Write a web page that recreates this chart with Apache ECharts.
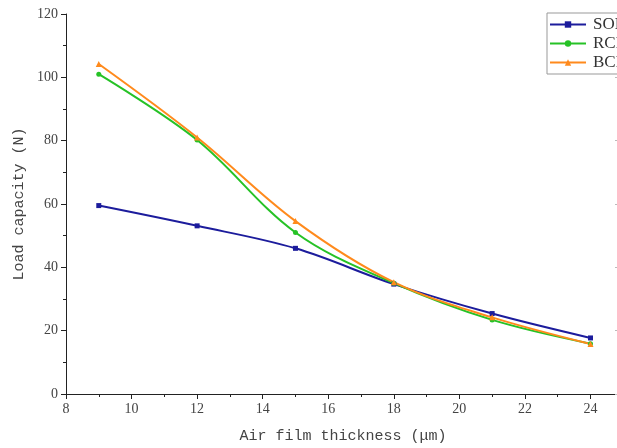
<!DOCTYPE html>
<html>
<head>
<meta charset="utf-8">
<script src="https://cdn.jsdelivr.net/npm/echarts@6/dist/echarts.min.js"></script>
<style>
  html, body { margin: 0; padding: 0; background: #fff; }
  #chart { width: 617px; height: 448px; }
</style>
</head>
<body>
<div id="chart"></div>
<script>
// Air film thickness (μm) and load capacity (N) for three bearing types
const thickness = [9, 12, 15, 18, 21, 24];
const sofLoad = [59.5, 53.1, 46.0, 34.7, 25.4, 17.7];
const rcfLoad = [101.0, 80.2, 51.0, 35.0, 23.4, 15.9];
const bcfLoad = [104.2, 81.0, 54.6, 35.3, 24.2, 15.8];
const seriesNames = ['SOF', 'RCF', 'BCF'];

const tickFont = 'Liberation Serif';
const titleFont = 'Liberation Mono';

function pairs(ys) { return thickness.map((x, i) => [x, ys[i]]); }

const chart = echarts.init(document.getElementById('chart'));

const axisLine = { show: true, lineStyle: { color: '#222', width: 1 } };

chart.setOption({
  animation: false,
  backgroundColor: '#fff',
  grid: { left: 66, top: 14, right: -3, bottom: 54, outerBoundsMode: 'none' },
  legend: {
    orient: 'vertical',
    left: 547,
    top: 13,
    padding: [3, 12, 3, 2],
    itemGap: 2,
    itemWidth: 36,
    itemHeight: 8,
    backgroundColor: '#fff',
    borderColor: '#999',
    borderWidth: 1,
    textStyle: {
      fontFamily: tickFont, fontSize: 17, lineHeight: 17, color: '#333',
      padding: [0, 0, 0, 2]
    },
    data: seriesNames
  },
  xAxis: [{
    type: 'value', min: 8, max: 24.9, interval: 2,
    axisLine,
    axisTick: { show: true, length: 5, inside: false, lineStyle: { color: '#222' } },
    minorTick: { show: true, splitNumber: 2, length: 3, lineStyle: { color: '#222' } },
    splitLine: { show: false },
    axisLabel: {
      fontFamily: tickFont, fontSize: 14, color: '#444', margin: 8,
      showMaxLabel: false
    },
    name: 'Air film thickness (μm)',
    nameLocation: 'middle', nameGap: 35,
    nameTextStyle: { fontFamily: titleFont, fontSize: 15, color: '#444' }
  }, {
    type: 'value', min: 8, max: 24.9, interval: 2, position: 'top',
    axisLine,
    axisTick: { show: true, inside: true, length: 5, lineStyle: { color: '#222' } },
    minorTick: { show: false },
    axisLabel: { show: false },
    splitLine: { show: false }
  }],
  yAxis: [{
    type: 'value', min: 0, max: 120, interval: 20,
    axisLine,
    axisTick: { show: true, length: 5, lineStyle: { color: '#222' } },
    minorTick: { show: true, splitNumber: 2, length: 3, lineStyle: { color: '#222' } },
    splitLine: { show: false },
    axisLabel: { fontFamily: tickFont, fontSize: 14, color: '#444', margin: 8 },
    name: 'Load capacity (N)',
    nameLocation: 'middle', nameGap: 36, nameRotate: 90,
    nameTextStyle: { fontFamily: titleFont, fontSize: 15, color: '#444' }
  }, {
    type: 'value', min: 0, max: 120, interval: 20, position: 'right',
    axisLine: { show: true, lineStyle: { color: '#bbb', width: 1 } },
    axisTick: { show: true, inside: true, length: 5, lineStyle: { color: '#bbb' } },
    axisLabel: { show: false },
    splitLine: { show: false }
  }],
  series: [{
    name: 'SOF', type: 'line', smooth: 0.35,
    data: pairs(sofLoad),
    symbol: 'rect', symbolSize: 5,
    itemStyle: { color: '#1c1c9c' },
    lineStyle: { color: '#1c1c9c', width: 2 }
  }, {
    name: 'RCF', type: 'line', smooth: 0.35,
    data: pairs(rcfLoad),
    symbol: 'circle', symbolSize: 5,
    itemStyle: { color: '#26c226' },
    lineStyle: { color: '#26c226', width: 2 }
  }, {
    name: 'BCF', type: 'line', smooth: 0.35,
    data: pairs(bcfLoad),
    symbol: 'triangle', symbolSize: 6,
    itemStyle: { color: '#ff8a1c' },
    lineStyle: { color: '#ff8a1c', width: 2 }
  }]
});
</script>
</body>
</html>
